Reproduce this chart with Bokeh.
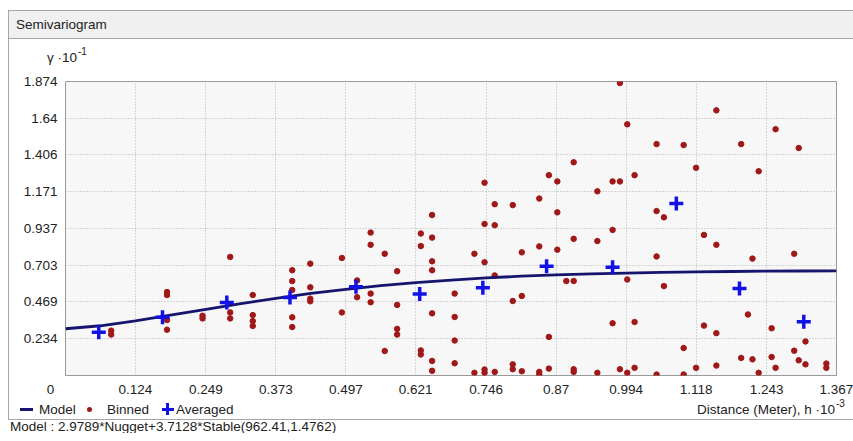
from bokeh.plotting import figure
from bokeh.models import Range1d, FixedTicker, Div
from bokeh.layouts import column, row
from bokeh.embed import file_html
from bokeh.resources import INLINE

# ---- data ----
x_tick_labels = ["0.124", "0.249", "0.373", "0.497", "0.621", "0.746",
                 "0.87", "0.994", "1.118", "1.243", "1.367"]
y_tick_labels = ["0.234", "0.469", "0.703", "0.937", "1.171", "1.406",
                 "1.64", "1.874"]

model_h = [0.0, 0.062, 0.124, 0.186, 0.249, 0.311, 0.373, 0.435, 0.497,
           0.559, 0.621, 0.684, 0.746, 0.808, 0.87, 0.932, 0.994, 1.056,
           1.118, 1.181, 1.243, 1.305, 1.367]
model_gamma = [0.298, 0.317, 0.348, 0.385, 0.422, 0.458, 0.492, 0.523,
               0.549, 0.573, 0.592, 0.608, 0.622, 0.633, 0.641, 0.648,
               0.653, 0.657, 0.660, 0.663, 0.665, 0.666, 0.667]

avg_h = [0.059, 0.172, 0.286, 0.398, 0.515, 0.628, 0.740, 0.853, 0.970,
         1.083, 1.195, 1.309]
avg_gamma = [0.276, 0.371, 0.465, 0.497, 0.566, 0.520, 0.560, 0.696, 0.690,
             1.097, 0.554, 0.343]

binned_h = [
    0.081, 0.081,
    0.180, 0.180, 0.180, 0.180,
    0.243, 0.243,
    0.292, 0.292, 0.292,
    0.332, 0.332, 0.332, 0.332,
    0.402, 0.402, 0.402, 0.402, 0.402,
    0.434, 0.434, 0.434, 0.434,
    0.490, 0.490,
    0.517, 0.517,
    0.541, 0.541, 0.541, 0.541,
    0.566, 0.566,
    0.588, 0.588, 0.588, 0.588,
    0.630, 0.630, 0.630, 0.630,
    0.650, 0.650, 0.650, 0.650, 0.650, 0.650, 0.650,
    0.690, 0.690, 0.690, 0.690,
    0.725, 0.725,
    0.743, 0.743, 0.743, 0.743, 0.743,
    0.761, 0.761, 0.761, 0.761,
    0.793, 0.793, 0.793, 0.793,
    0.809, 0.809, 0.809,
    0.840, 0.840, 0.840, 0.840,
    0.857, 0.857, 0.857,
    0.872, 0.872, 0.872,
    0.888,
    0.901, 0.901, 0.901, 0.901, 0.901,
    0.943, 0.943, 0.943,
    0.970, 0.970, 0.970,
    0.983, 0.983, 0.983,
    0.996, 0.996, 0.996,
    1.009, 1.009, 1.009,
    1.048, 1.048, 1.048, 1.048,
    1.061, 1.061,
    1.096, 1.096, 1.096,
    1.118, 1.118,
    1.132, 1.132,
    1.154, 1.154, 1.154, 1.154,
    1.198, 1.198,
    1.210,
    1.218, 1.218,
    1.229, 1.229,
    1.252, 1.252,
    1.259, 1.259,
    1.292, 1.292,
    1.300, 1.300,
    1.312, 1.312,
    1.349, 1.349,
]
binned_gamma = [
    0.286, 0.261,
    0.532, 0.513, 0.353, 0.292,
    0.381, 0.364,
    0.756, 0.402, 0.364,
    0.513, 0.385, 0.347, 0.316,
    0.671, 0.602, 0.545, 0.371, 0.309,
    0.713, 0.562, 0.490, 0.473,
    0.749, 0.402,
    0.606, 0.499,
    0.911, 0.833, 0.522, 0.467,
    0.776, 0.156,
    0.665, 0.450, 0.297, 0.261,
    0.905, 0.825, 0.160, 0.134,
    1.023, 0.879, 0.728, 0.671, 0.396, 0.093, 0.030,
    0.522, 0.373, 0.223, 0.078,
    0.776, 0.017,
    1.229, 0.966, 0.722, 0.038, 0.017,
    1.092, 0.958, 0.638, 0.023,
    1.086, 0.475, 0.071, 0.040,
    0.785, 0.507, 0.027,
    1.128, 0.823, 0.023, 0.006,
    1.277, 0.246, 0.044,
    1.237, 1.040, 0.802,
    0.602,
    1.359, 0.871, 0.602, 0.040, 0.023,
    1.174, 0.857, 0.017,
    1.237, 0.928, 0.333,
    1.864, 1.237, 0.040,
    1.601, 0.612, 0.017,
    1.277, 0.341, 0.049,
    1.475, 1.048, 0.759, 0.006,
    1.008, 0.570,
    1.469, 0.175, 0.006,
    1.324, 0.049,
    0.896, 0.318,
    1.690, 0.833, 0.270, 0.063,
    1.475, 0.112,
    0.389,
    0.745, 0.103,
    1.302, 0.017,
    0.301, 0.118,
    1.570, 0.049,
    0.776, 0.158,
    1.450, 0.097,
    0.217, 0.071,
    0.076, 0.049,
]

header_text = "Semivariogram"
y_unit_text, y_unit_exp = "γ ·10", "-1"
x_unit_text, x_unit_exp = "Distance (Meter), h ·10", "-3"
legend_labels = ["Model", "Binned", "Averaged"]
model_text = "Model : 2.9789*Nugget+3.7128*Stable(962.41,1.4762)"

FONT = "Liberation Sans"
TXT = "#222222"
BORDER = "#a6a6a6"
LINE_C = "#15156e"
DOT_C = "#a01818"
CROSS_C = "#1212e6"
FS = "13.5px"
FONT_CSS = f"font-family:'{FONT}';font-size:{FS};color:{TXT};line-height:13px;"

W = 845
IW = W - 1  # inner width after the 1px left border

# ---- header ----
header = Div(
    width=W, height=31, margin=0,
    text=(f'<div style="margin-top:2px;width:{W}px;height:29px;box-sizing:border-box;'
          f'background:#f0f0f0;border-top:1px solid {BORDER};'
          f'border-bottom:1px solid {BORDER};border-left:1px solid {BORDER};'
          f'display:flex;align-items:center;padding-left:7px;{FONT_CSS}">'
          f'{header_text}</div>'),
)

# ---- y unit label row ----
gamma_div = Div(
    width=IW, height=32, margin=0,
    text=(f'<div style="position:relative;width:{IW}px;height:32px;overflow:hidden;{FONT_CSS}">'
          f'<span style="position:absolute;right:{IW - 68}px;top:12px;white-space:nowrap;">{y_unit_text}</span>'
          f'<span style="position:absolute;left:69px;top:8px;font-size:10px;line-height:10px;">{y_unit_exp}</span>'
          f'</div>'),
)

# ---- plot ----
p = figure(width=IW, height=328, output_backend="svg", toolbar_location=None,
           x_range=Range1d(0, 1.367), y_range=Range1d(0, 1.874),
           min_border_left=56, min_border_right=17,
           min_border_top=10, min_border_bottom=22, margin=0)
p.background_fill_color = "#f7f7f7"
p.border_fill_color = "white"
p.outline_line_color = "#9a9a9a"
p.outline_line_width = 1

xt = [0.0] + [float(s) for s in x_tick_labels]
yt = [float(s) for s in y_tick_labels]
p.xaxis.ticker = FixedTicker(ticks=xt)
p.yaxis.ticker = FixedTicker(ticks=yt)
x_over = {v: s for v, s in zip(xt[1:], x_tick_labels)}
x_over[0.0] = "0" + "\u00a0" * 8
p.xaxis.major_label_overrides = x_over
p.yaxis.major_label_overrides = {v: s for v, s in zip(yt, y_tick_labels)}
for ax in (p.xaxis[0], p.yaxis[0]):
    ax.axis_line_color = None
    ax.major_tick_line_color = None
    ax.minor_tick_line_color = None
    ax.major_tick_out = 0
    ax.major_tick_in = 0
    ax.major_label_text_font = FONT
    ax.major_label_text_font_size = FS
    ax.major_label_text_color = TXT
p.xaxis.major_label_standoff = 6
p.yaxis.major_label_standoff = 8

p.grid.grid_line_color = "#b2b2b2"
p.grid.grid_line_dash = "1 2"
p.grid.grid_line_width = 1

p.scatter(binned_h, binned_gamma, marker="circle", size=5.5,
          fill_color=DOT_C, line_color=DOT_C)
p.line(model_h, model_gamma, line_color=LINE_C, line_width=2.8)
p.scatter(avg_h, avg_gamma, marker="cross", size=14, line_width=3.5,
          line_color=CROSS_C)

# ---- legend + x unit row ----
legend_div = Div(
    width=IW, height=20, margin=0,
    text=(f'<div style="position:relative;width:{IW}px;height:20px;overflow:hidden;{FONT_CSS}">'
          f'<span style="position:absolute;left:11px;top:9px;width:13px;height:3px;background:{LINE_C};"></span>'
          f'<span style="position:absolute;left:30px;top:4px;">{legend_labels[0]}</span>'
          f'<span style="position:absolute;left:78px;top:8px;width:5px;height:5px;border-radius:50%;background:{DOT_C};"></span>'
          f'<span style="position:absolute;left:98px;top:4px;">{legend_labels[1]}</span>'
          f'<span style="position:absolute;left:153px;top:9px;width:12px;height:3px;background:{CROSS_C};"></span>'
          f'<span style="position:absolute;left:157px;top:4px;width:3px;height:12px;background:{CROSS_C};"></span>'
          f'<span style="position:absolute;left:167px;top:4px;">{legend_labels[2]}</span>'
          f'<span style="position:absolute;right:{IW - 826}px;top:4px;white-space:nowrap;">{x_unit_text}</span>'
          f'<span style="position:absolute;left:827px;top:0px;font-size:10px;line-height:10px;">{x_unit_exp}</span>'
          f'</div>'),
)

left_line = Div(width=1, height=380, margin=0, styles={"background-color": BORDER})
inner = column(gamma_div, p, legend_div, spacing=0, margin=0)

# ---- footer ----
footer = Div(
    width=W, height=14, margin=0,
    text=(f'<div style="width:{W}px;height:14px;box-sizing:border-box;overflow:hidden;'
          f'border-top:1px solid {BORDER};padding-left:2px;white-space:nowrap;{FONT_CSS}">'
          f'{model_text}</div>'),
)

layout = column(header, row(left_line, inner, spacing=0, margin=0), footer,
                spacing=0, margin=(8, 0, 0, 8))

open("out.html", "w").write(file_html(layout, INLINE))
